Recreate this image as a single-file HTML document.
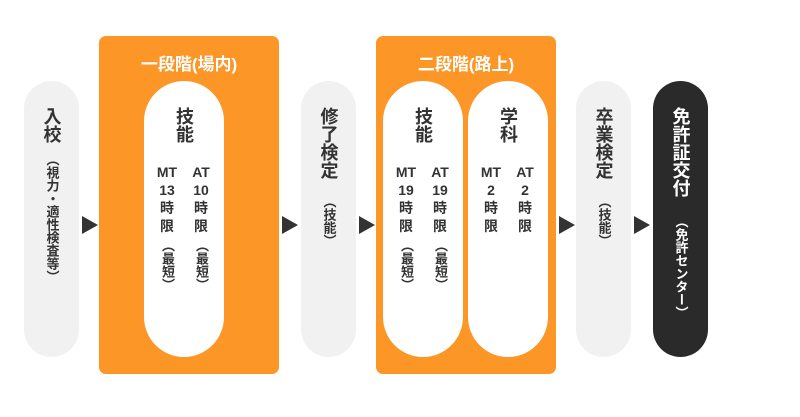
<!DOCTYPE html>
<html><head><meta charset="utf-8"><style>
body{margin:0;width:800px;height:417px;background:#fff;position:relative;overflow:hidden;font-family:"Liberation Sans","Noto Sans CJK JP",sans-serif;font-weight:bold;color:#333}
.pill{position:absolute;top:81px;height:276px;border-radius:28px;background:#f1f1f1}
.wp{position:absolute;top:45px;height:276px;width:80px;border-radius:40px;background:#fff}
.box{position:absolute;top:36px;width:180px;height:338px;background:#fb9627;border-radius:7px}
.tt{position:absolute;top:14px;left:0;width:100%;text-align:center;color:#fff;font-size:17px}
.v{position:absolute;writing-mode:vertical-rl;left:50%;transform:translateX(-50%);white-space:nowrap}
.big{font-size:18px;top:26px;line-height:20px}
.sub{font-size:13px;line-height:14px}
.arr{position:absolute;top:216px;width:0;height:0;border-top:9px solid transparent;border-bottom:9px solid transparent;border-left:16px solid #333}
.col{position:absolute;top:82px;width:30px;text-align:center;font-size:14px;line-height:18px}
.col .p{writing-mode:vertical-rl;font-size:13px;line-height:14px;margin:4px auto 0;display:inline-block}
</style></head><body>
<div class="pill" style="left:24px;width:55px"><div class="v big">入校</div><div class="v sub" style="top:72px">（視力・適性検査等）</div></div>
<div class="arr" style="left:82px"></div>
<div class="box" style="left:99px"><div class="tt">一段階(場内)</div>
<div class="wp" style="left:45px"><div class="v big">技能</div>
<div class="col" style="left:8px">MT<br>13<br>時<br>限<br><span class="p">（最短）</span></div>
<div class="col" style="left:42px">AT<br>10<br>時<br>限<br><span class="p">（最短）</span></div></div></div>
<div class="arr" style="left:282px"></div>
<div class="pill" style="left:301px;width:55px"><div class="v big">修了検定</div><div class="v sub" style="top:114px">（技能）</div></div>
<div class="arr" style="left:359px"></div>
<div class="box" style="left:376px"><div class="tt">二段階(路上)</div>
<div class="wp" style="left:7px"><div class="v big">技能</div>
<div class="col" style="left:8px">MT<br>19<br>時<br>限<br><span class="p">（最短）</span></div>
<div class="col" style="left:42px">AT<br>19<br>時<br>限<br><span class="p">（最短）</span></div></div>
<div class="wp" style="left:92px"><div class="v big">学科</div>
<div class="col" style="left:8px">MT<br>2<br>時<br>限</div>
<div class="col" style="left:42px">AT<br>2<br>時<br>限</div></div></div>
<div class="arr" style="left:559px"></div>
<div class="pill" style="left:576px;width:55px"><div class="v big">卒業検定</div><div class="v sub" style="top:114px">（技能）</div></div>
<div class="arr" style="left:634px"></div>
<div class="pill" style="left:653px;width:55px;background:#2a2a2a;color:#fff"><div class="v big">免許証交付</div><div class="v sub" style="top:134px">（免許センター）</div></div>
</body></html>
